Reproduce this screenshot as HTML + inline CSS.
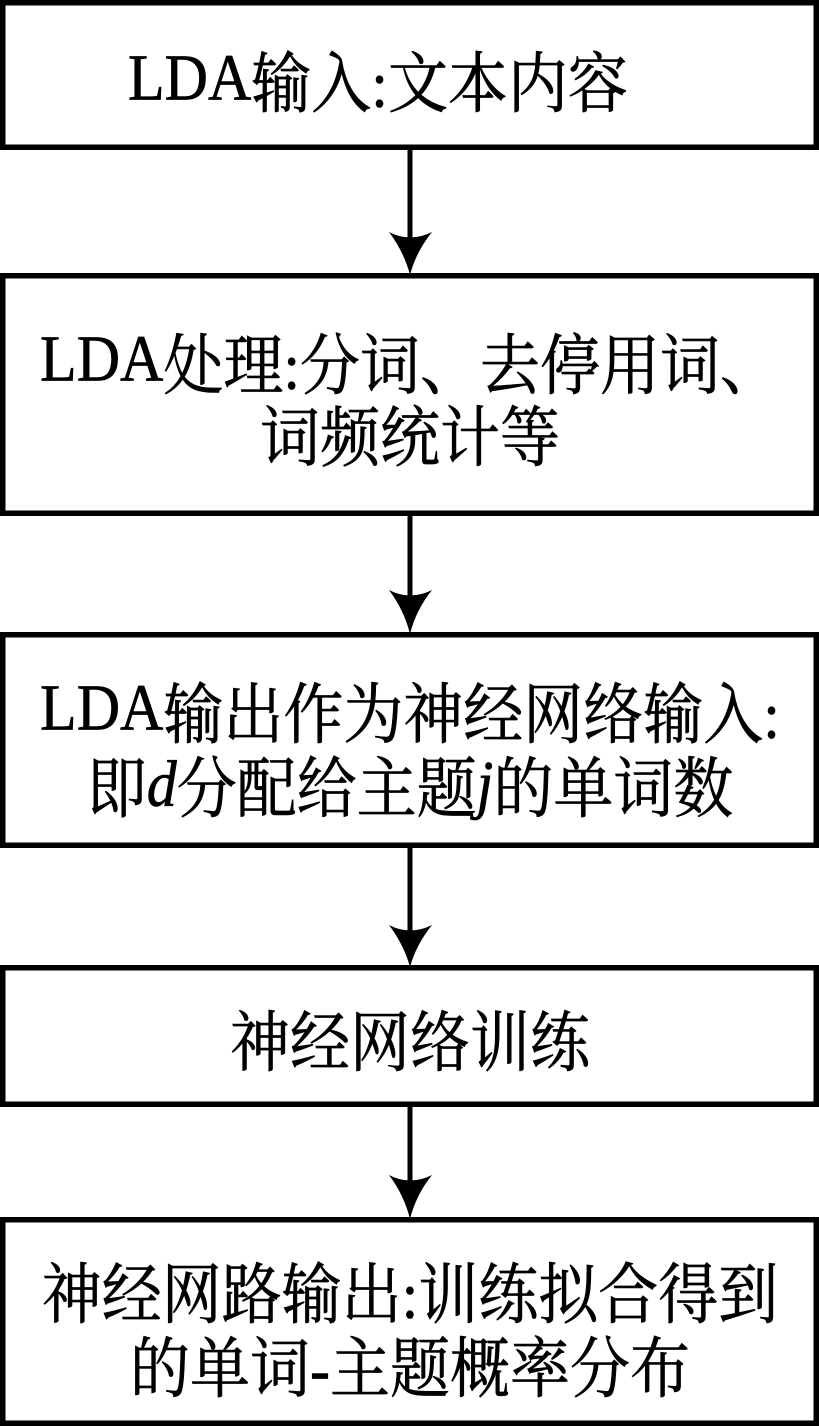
<!DOCTYPE html>
<html>
<head>
<meta charset="utf-8">
<style>
  html, body { margin: 0; padding: 0; background: #fff; }
  body { width: 819px; height: 1426px; overflow: hidden; }
  svg { display: block; }
  text { font-family: "Liberation Serif", "Noto Serif CJK SC", serif; font-size: 60px; fill: #000; stroke: #000; stroke-width: 0.6px; }
</style>
</head>
<body>
<svg width="819" height="1426" viewBox="0 0 819 1426" xmlns="http://www.w3.org/2000/svg">
  <rect x="0" y="0" width="819" height="1426" fill="#fff"/>

  <!-- Boxes -->
  <g fill="none" stroke="#000" stroke-width="5.5">
    <rect x="2.75" y="2.75" width="813.5" height="144.5"/>
    <rect x="2.75" y="275.75" width="813.5" height="237.5"/>
    <rect x="2.75" y="634.75" width="813.5" height="210.5"/>
    <rect x="2.75" y="967.75" width="813.5" height="136.5"/>
    <rect x="2.75" y="1219.75" width="813.5" height="203.5"/>
  </g>

  <!-- Connectors -->
  <g stroke="#000" stroke-width="5">
    <line x1="410" y1="150" x2="410" y2="240"/>
    <line x1="410" y1="516" x2="410" y2="598"/>
    <line x1="410" y1="848" x2="410" y2="933"/>
    <line x1="410" y1="1107" x2="410" y2="1183"/>
  </g>
  <g fill="#000">
    <path d="M389,232 Q410,243 432,232 Q416,252 410,275 Q404,252 389,232 Z"/>
    <path d="M389,590 Q410,601 432,590 Q416,610 410,634 Q404,610 389,590 Z"/>
    <path d="M389,925 Q410,936 432,925 Q416,945 410,967 Q404,945 389,925 Z"/>
    <path d="M389,1175 Q410,1186 432,1175 Q416,1195 410,1219 Q404,1195 389,1175 Z"/>
  </g>

  <!-- Box 1 -->
  <g transform="translate(0,81) scale(1,1.1) translate(0,-81)">
    <text x="128" y="104"><tspan dy="-6">LDA</tspan><tspan dy="6">输入</tspan>:文本内容</text>
  </g>

  <!-- Box 2 -->
  <g transform="translate(0,363) scale(1,1.1) translate(0,-363)">
    <text x="410" y="386" text-anchor="middle"><tspan dy="-7">LDA</tspan><tspan dy="7">处理</tspan>:分词、去停用词、</text>
  </g>
  <g transform="translate(0,435) scale(1,1.1) translate(0,-435)">
    <text x="410" y="458" text-anchor="middle">词频统计等</text>
  </g>

  <!-- Box 3 -->
  <g transform="translate(0,712) scale(1,1.1) translate(0,-712)">
    <text x="410" y="735" text-anchor="middle"><tspan dy="-7">LDA</tspan><tspan dy="7">输出作为神经网络输入</tspan>:</text>
  </g>
  <g transform="translate(0,786) scale(1,1.1) translate(0,-786)">
    <text x="410" y="809" text-anchor="middle">即<tspan font-style="italic" dy="-5">d</tspan><tspan dy="5">分配给主题</tspan><tspan font-style="italic" dy="-5">j</tspan><tspan dy="5">的单词数</tspan></text>
  </g>

  <!-- Box 4 -->
  <g transform="translate(0,1040) scale(1,1.1) translate(0,-1040)">
    <text x="410" y="1063" text-anchor="middle">神经网络训练</text>
  </g>

  <!-- Box 5 -->
  <g transform="translate(0,1292) scale(1,1.1) translate(0,-1292)">
    <text x="410" y="1315" text-anchor="middle">神经网路输出:训练拟合得到</text>
  </g>
  <g transform="translate(0,1366) scale(1,1.1) translate(0,-1366)">
    <text x="410" y="1389" text-anchor="middle">的单词-主题概率分布</text>
  </g>
</svg>
</body>
</html>
